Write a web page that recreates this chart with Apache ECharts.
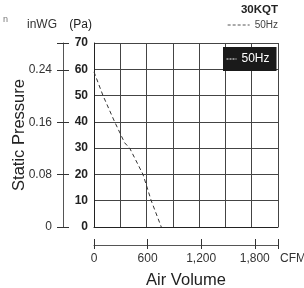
<!DOCTYPE html>
<html lang="en">
<head>
<meta charset="UTF-8">
<title>30KQT</title>
<script src="https://cdn.jsdelivr.net/npm/echarts@6/dist/echarts.min.js"></script>
<style>
body{margin:0;background:#fff}
#main{width:304px;height:288px}
</style>
</head>
<body>
<div id="main"></div>
<script type="text/javascript">
// flow in m3/h (grid columns are 500 m3/h), pressure in Pa
var flow50 = [0, 171, 393, 584, 679, 932, 1089, 1280];
var pa50 = [59, 50, 40, 32, 30, 20, 10, 0];
var cfmTicks = [0, 600, 1200, 1800];
var inwgTicks = [0, 0.08, 0.16, 0.24];

var PA_MAX = 70, FLOW_MAX = 3500;
var INWG_MAX = PA_MAX / 249.09;
var CFM_MAX = FLOW_MAX / 1.699;

var curve = [];
for (var i = 0; i < flow50.length; i++) curve.push([flow50[i], pa50[i]]);

var sans = 'Liberation Sans, Arial, sans-serif';
var myChart = echarts.init(document.getElementById('main'));
myChart.setOption({
    animation: false,
    backgroundColor: '#fff',
    textStyle: {fontFamily: sans},
    title: [
        {text: '30KQT', right: 26, top: 4, padding: 0,
         textStyle: {fontFamily: sans, fontWeight: 'bold', fontSize: 11.5, color: '#222'}},
        {text: 'n', left: 3, top: 15, padding: 0,
         textStyle: {fontFamily: sans, fontSize: 9, fontWeight: 'normal', color: '#777'}}
    ],
    legend: [
        {right: 26, top: 20, padding: 0, itemWidth: 22, itemHeight: 8, itemGap: 4, data: ['50Hz'],
         lineStyle: {type: [3, 2], color: '#555', width: 1},
         itemStyle: {color: 'rgba(0,0,0,0)', borderWidth: 0},
         textStyle: {fontSize: 10, color: '#444', fontFamily: sans}},
        {left: 223, top: 47, padding: [6, 7, 6, 3], itemWidth: 10, itemHeight: 8, itemGap: 3,
         backgroundColor: '#1a1a1a', data: ['50Hz'],
         lineStyle: {type: [2, 1], color: '#fff', width: 1},
         itemStyle: {color: 'rgba(0,0,0,0)', borderWidth: 0},
         textStyle: {fontSize: 12, color: '#fff', fontFamily: sans}}
    ],
    grid: {left: 94, right: 26, top: 43, bottom: 61, outerBoundsMode: 'none', containLabel: false},
    xAxis: [
        {type: 'value', min: 0, max: FLOW_MAX, interval: 500,
         name: 'Air Volume', nameLocation: 'middle', nameGap: 45,
         nameTextStyle: {fontSize: 16.5, color: '#222', fontFamily: sans},
         axisLine: {show: true, onZero: false, lineStyle: {color: '#222'}},
         axisTick: {show: false}, axisLabel: {show: false},
         splitLine: {show: true, lineStyle: {color: '#444', width: 1}}},
        {type: 'value', min: 0, max: CFM_MAX, interval: 600, position: 'bottom', offset: 18,
         name: 'CFM', nameLocation: 'end', nameGap: 2,
         nameTextStyle: {fontSize: 12, color: '#333', verticalAlign: 'top', padding: [8, 0, 0, 0]},
         axisLine: {show: true, onZero: false, lineStyle: {color: '#555'}},
         axisTick: {show: true, inside: true, length: 6, lineStyle: {color: '#333'}},
         axisLabel: {margin: 8, fontSize: 12, color: '#333',
             formatter: function (v) { return cfmTicks.indexOf(v) >= 0 ? v.toLocaleString('en-US') : ''; }},
         splitLine: {show: false}},
        {type: 'value', min: 0, max: CFM_MAX, interval: 600, position: 'bottom', offset: 18,
         axisLine: {show: false, onZero: false},
         axisTick: {show: true, length: 4, lineStyle: {color: '#333'}},
         axisLabel: {show: false}, splitLine: {show: false}}
    ],
    yAxis: [
        {type: 'value', min: 0, max: PA_MAX, interval: 10,
         name: '(Pa)', nameLocation: 'end', nameGap: 12,
         nameTextStyle: {fontSize: 12, color: '#222', align: 'right', padding: [0, 2, 0, 0]},
         axisLine: {show: true, onZero: false, lineStyle: {color: '#222'}},
         axisTick: {show: false},
         axisLabel: {margin: 6, fontSize: 12, fontWeight: 'bold', color: '#222'},
         splitLine: {show: true, lineStyle: {color: '#444', width: 1}}},
        {type: 'value', min: 0, max: INWG_MAX, interval: 0.08, position: 'left', offset: 31,
         name: 'inWG', nameLocation: 'end', nameGap: 12,
         nameTextStyle: {fontSize: 12, color: '#333', align: 'right', padding: [0, 6, 0, 0]},
         axisLine: {show: true, onZero: false, lineStyle: {color: '#555'}},
         axisTick: {show: true, length: 6, lineStyle: {color: '#333'}},
         axisLabel: {margin: 11, fontSize: 12, color: '#333',
             formatter: function (v) { return v > 0.25 ? '' : +v.toFixed(2) + ''; }},
         splitLine: {show: false}},
        {type: 'value', min: 0, max: INWG_MAX, interval: 0.08, position: 'left', offset: 31,
         name: 'Static Pressure', nameLocation: 'middle', nameGap: 35,
         nameTextStyle: {fontSize: 16.5, color: '#222', fontFamily: sans},
         axisLine: {show: false, onZero: false},
         axisTick: {show: true, inside: true, length: 6, lineStyle: {color: '#333'}},
         axisLabel: {show: false}, splitLine: {show: false}}
    ],
    series: [
        {name: '50Hz', type: 'line', data: curve, symbol: 'none',
         xAxisIndex: 0, yAxisIndex: 0,
         lineStyle: {color: '#333', width: 1, type: [4, 3]}}
    ]
});
</script>
</body>
</html>
